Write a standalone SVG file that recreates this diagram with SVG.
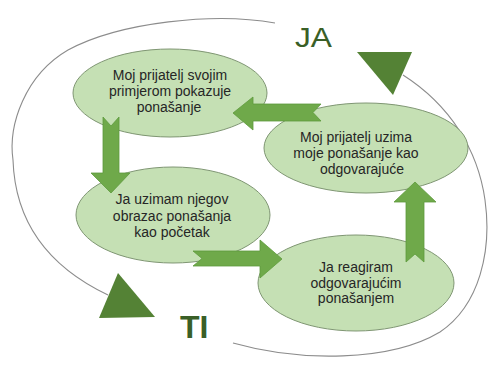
<svg xmlns="http://www.w3.org/2000/svg" width="488" height="365" viewBox="0 0 488 365">
<style>
.bg{fill:#ffffff}
.ring{fill:none;stroke:#8c8c8c;stroke-width:1.1}
.node ellipse{fill:#c5e0b4;stroke:#7f9673;stroke-width:1}
.node text{font-family:"Liberation Sans",Arial,sans-serif;font-size:14px;fill:#262626;text-anchor:middle}
.arrow{fill:#6fa94a;stroke:#5e9a3c;stroke-width:0.8}
.tri{fill:#548235}
.big{font-family:"Liberation Sans",Arial,sans-serif;fill:#3a5f27}
</style>
<rect class="bg" x="0" y="0" width="488" height="365"/>
<g id="ring">
<path class="ring" d="M275,23 C215,12 120,22 68,50 C25,75 8,125 13,160 C15,220 45,265 108,295"/>
<path class="ring" d="M233,343 C300,362 390,362 440,332 C480,305 492,250 485,200 C478,150 450,105 403,75"/>
</g>
<g id="triangles">
<polygon class="tri" points="357,52 412,52 393,95"/>
<polygon class="tri" points="118,273 155,317 99,318"/>
</g>
<g id="labels">
<text class="big" x="295" y="47" font-size="27" textLength="37" lengthAdjust="spacingAndGlyphs">JA</text>
<text class="big" x="180" y="338" font-size="32" font-weight="bold">TI</text>
</g>
<g id="node1" class="node">
<ellipse cx="170" cy="93" rx="97" ry="44"/>
<text x="170" y="80">Moj prijatelj svojim</text>
<text x="170" y="96">primjerom pokazuje</text>
<text x="169" y="112">ponašanje</text>
</g>
<g id="node2" class="node">
<ellipse cx="366" cy="148" rx="102" ry="45"/>
<text x="356" y="141.5">Moj prijatelj uzima</text>
<text x="356" y="157.5">moje ponašanje kao</text>
<text x="362" y="174">odgovarajuće</text>
</g>
<g id="node3" class="node">
<ellipse cx="173" cy="215" rx="97" ry="48"/>
<text x="172" y="204">Ja uzimam njegov</text>
<text x="172" y="220.5">obrazac ponašanja</text>
<text x="172" y="236.5">kao početak</text>
</g>
<g id="node4" class="node">
<ellipse cx="356" cy="283" rx="98" ry="48"/>
<text x="356" y="271.5">Ja reagiram</text>
<text x="356" y="287.5">odgovarajućim</text>
<text x="356" y="303">ponašanjem</text>
</g>
<g id="connectors">
<polygon class="arrow" points="233,113 253,97 253,104 321,104 313,112.5 321,121 253,121 253,130"/>
<polygon class="arrow" points="103,117 111,126 119,117 119,173 130,173 111,193 91,173 103,173"/>
<polygon class="arrow" points="193,251 260,251 260,240 282,259 260,278 260,266 193,266 202,258.5"/>
<polygon class="arrow" points="415,182 436,202 424,202 424,262 415,254 406,262 406,202 394,202"/>
</g>
</svg>
